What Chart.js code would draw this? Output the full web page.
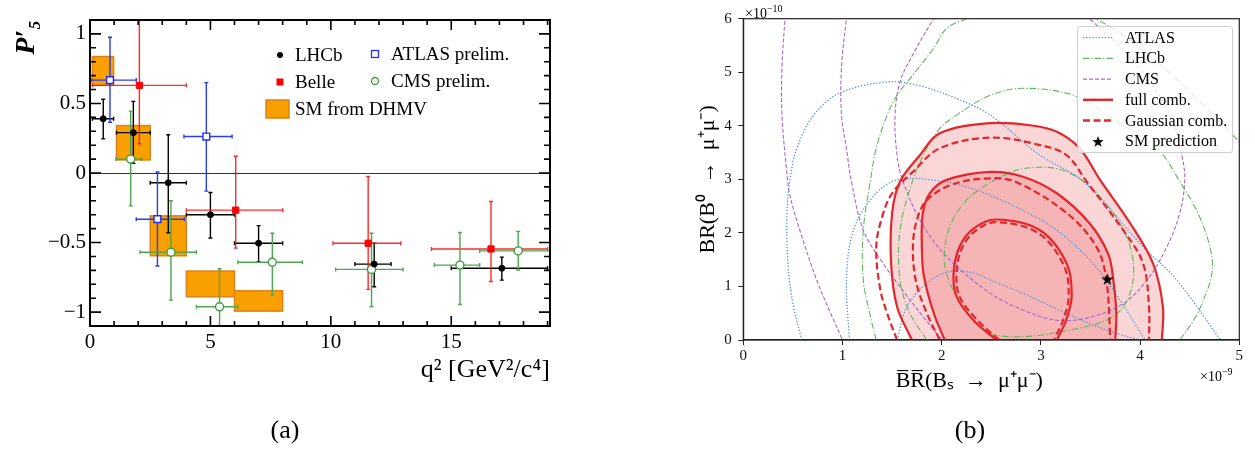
<!DOCTYPE html>
<html>
<head>
<meta charset="utf-8">
<script src="https://cdn.jsdelivr.net/npm/chart.js@4.4.1/dist/chart.umd.min.js"></script>
<style>
  body { margin: 0; background: #fff; }
  #page { position: relative; width: 1255px; height: 452px; overflow: hidden; font-family: "Liberation Serif", serif; color: #000; }
  canvas { position: absolute; top: 0; }
  .lab { position: absolute; white-space: nowrap; }
  svg { position: absolute; left: 0; top: 0; pointer-events: none; }
</style>
</head>
<body>
<div id="page">
  <canvas id="chartA" width="620" height="452" style="left:0"></canvas>
  <canvas id="chartB" width="635" height="452" style="left:620px"></canvas>

  <!-- legend (a) -->
  <svg width="620" height="452">
    <circle cx="280" cy="55" r="3" fill="#000"/>
    <rect x="276.5" y="78.5" width="7" height="7" fill="#ff0000"/>
    <rect x="266" y="100" width="23" height="18" fill="#f9a000" stroke="#d9831a" stroke-width="1.5"/>
    <rect x="371.5" y="50.5" width="7" height="7" fill="#fff" stroke="#1f2fff" stroke-width="1.3"/>
    <circle cx="375" cy="81" r="3.5" fill="#fff" stroke="#3e9b3e" stroke-width="1.3"/>
  </svg>
  <div class="lab" style="left:295px;top:43px;font-size:19px;line-height:24px">LHCb</div>
  <div class="lab" style="left:295px;top:70px;font-size:19px;line-height:24px">Belle</div>
  <div class="lab" style="left:295px;top:97px;font-size:19px;line-height:24px">SM from DHMV</div>
  <div class="lab" style="left:391px;top:42px;font-size:19px;line-height:24px">ATLAS prelim.</div>
  <div class="lab" style="left:391px;top:69px;font-size:19px;line-height:24px">CMS prelim.</div>
  <div class="lab" style="left:257px;top:414px;font-size:26px;line-height:32px;width:56px;text-align:center">(a)</div>

  <!-- legend (b) -->
  <div style="position:absolute;left:1077px;top:26px;width:156px;height:127px;box-sizing:border-box;border:1px solid #cfcfcf;border-radius:3px;background:rgba(255,255,255,0.8)"></div>
  <svg width="1255" height="452">
    <line x1="1083" y1="37.7" x2="1113" y2="37.7" stroke="#4c93d8" stroke-width="1.3" stroke-dasharray="1.3 1.8"/>
    <line x1="1083" y1="58.4" x2="1113" y2="58.4" stroke="#5cb85c" stroke-width="1.2" stroke-dasharray="6.5 2 1.2 2"/>
    <line x1="1083" y1="79.1" x2="1113" y2="79.1" stroke="#a866cc" stroke-width="1.2" stroke-dasharray="4 2"/>
    <line x1="1083" y1="99.8" x2="1113" y2="99.8" stroke="#e4262c" stroke-width="2.4"/>
    <line x1="1083" y1="120.5" x2="1113" y2="120.5" stroke="#e4262c" stroke-width="2.4" stroke-dasharray="7 3.5"/>
    <polygon id="legStar" fill="#000" points=""/>
  </svg>
  <div class="lab" style="left:1125px;top:27.7px;font-size:16px;line-height:20px">ATLAS</div>
  <div class="lab" style="left:1125px;top:48.4px;font-size:16px;line-height:20px">LHCb</div>
  <div class="lab" style="left:1125px;top:69.1px;font-size:16px;line-height:20px">CMS</div>
  <div class="lab" style="left:1125px;top:89.8px;font-size:16px;line-height:20px">full comb.</div>
  <div class="lab" style="left:1125px;top:110.5px;font-size:16px;line-height:20px">Gaussian comb.</div>
  <div class="lab" style="left:1125px;top:131.2px;font-size:16px;line-height:20px">SM prediction</div>
  <div class="lab" style="left:745px;top:0px;font-size:14px;line-height:18px">×10<sup style="font-size:10px">−10</sup></div>
  <div class="lab" style="left:1200px;top:363px;font-size:14px;line-height:18px">×10<sup style="font-size:10px">−9</sup></div>
  <div class="lab" style="left:942px;top:414px;font-size:26px;line-height:32px;width:56px;text-align:center">(b)</div>
</div>

<script>
// ---------- panel (a): P'5 vs q^2 ----------
const LHCB_X   = [0.55, 1.8, 3.25, 5.0, 7.0, 11.8, 17.1];
const LHCB_Y   = [0.39, 0.29, -0.07, -0.30, -0.505, -0.655, -0.685];
const LHCB_YLO = [0.245, 0.07, -0.43, -0.467, -0.638, -0.818, -0.77];
const LHCB_YHI = [0.53, 0.515, 0.275, -0.14, -0.378, -0.505, -0.605];
const LHCB_XLO = [0.1, 1.1, 2.5, 4, 6, 11, 15];
const LHCB_XHI = [0.98, 2.5, 4, 6, 8, 12.5, 19];

const BELLE_X   = [2.05, 6.05, 11.55, 16.65];
const BELLE_Y   = [0.63, -0.267, -0.505, -0.546];
const BELLE_YLO = [0.21, -0.54, -0.837, -0.78];
const BELLE_YHI = [1.3, 0.12, -0.025, -0.205];
const BELLE_XLO = [0.1, 4, 10.09, 14.18];
const BELLE_XHI = [4, 8, 12.9, 19];

const ATLAS_X   = [0.83, 2.8, 4.83];
const ATLAS_Y   = [0.668, -0.332, 0.262];
const ATLAS_YLO = [0.365, -0.669, -0.13];
const ATLAS_YHI = [0.976, 0.007, 0.65];
const ATLAS_XLO = [0.04, 1.92, 3.9];
const ATLAS_XHI = [1.92, 3.92, 5.9];

const CMS_X   = [1.69, 3.36, 5.38, 7.57, 11.69, 15.36, 17.78];
const CMS_Y   = [0.10, -0.57, -0.962, -0.642, -0.693, -0.662, -0.56];
const CMS_YLO = [-0.236, -0.914, -1.3, -0.878, -0.962, -0.945, -0.697];
const CMS_YHI = [0.445, -0.20, -0.688, -0.433, -0.433, -0.428, -0.42];
const CMS_XLO = [1.08, 2.08, 4.42, 6.14, 10.2, 14.3, 16.18];
const CMS_XHI = [2.14, 4.42, 6.14, 8.82, 13.0, 16.18, 19.1];

const SM_XLO = [0.1, 1.1, 2.5, 4, 6];
const SM_XHI = [0.98, 2.5, 4, 6, 8];
const SM_YLO = [0.63, 0.094, -0.595, -0.89, -0.993];
const SM_YHI = [0.837, 0.341, -0.308, -0.705, -0.847];

const Q2_TICKS  = [0, 5, 10, 15];
const P5_TICKS  = [-1, -0.5, 0, 0.5, 1];

// ---------- panel (b): BR contours (x in 1e-9, y in 1e-10) ----------
const FULL_OUTER = [[1.70,0],[1.55,0.62],[1.49,1.43],[1.50,2.37],[1.58,2.96],[1.78,3.45],[1.98,3.86],[2.49,4.05],[2.89,4.01],[3.16,3.89],[3.39,3.58],[3.60,2.98],[3.90,2.18],[4.13,1.43],[4.23,0.62],[4.22,0]];
const FULL_MID   = [[2.03,0],[1.92,0.5],[1.82,1.2],[1.80,1.74],[1.81,2.37],[1.88,2.74],[2.05,2.99],[2.49,3.14],[2.82,3.05],[3.16,2.74],[3.49,2.18],[3.68,1.6],[3.73,1.12],[3.76,0.5],[3.75,0]];
const FULL_INNER = [[2.55,0],[2.32,0.37],[2.15,0.81],[2.12,1.25],[2.18,1.74],[2.32,2.08],[2.55,2.25],[2.99,2.05],[3.26,1.43],[3.31,0.81],[3.25,0.35],[3.16,0]];
const GAUSS_OUTER = [[1.55,0],[1.45,0.5],[1.38,0.95],[1.34,1.74],[1.40,2.3],[1.50,2.74],[1.71,3.14],[1.98,3.58],[2.49,3.78],[2.99,3.64],[3.26,3.45],[3.46,2.96],[3.83,2.05],[4.03,1.43],[4.09,0.62],[4.09,0]];
const GAUSS_MID   = [[1.98,0],[1.85,0.5],[1.74,1.1],[1.71,1.74],[1.75,2.24],[1.85,2.61],[2.1,2.9],[2.49,3.02],[2.75,2.95],[3.26,2.37],[3.56,1.74],[3.66,1.12],[3.70,0]];
const GAUSS_INNER = [[2.58,0],[2.36,0.37],[2.18,0.81],[2.15,1.25],[2.2,1.7],[2.34,2.04],[2.55,2.2],[2.97,2.0],[3.23,1.4],[3.28,0.81],[3.22,0.35],[3.13,0]];

const ATLAS_1 = [[0.59,0],[0.50,0.68],[0.45,1.43],[0.44,2.37],[0.47,2.99],[0.54,3.58],[0.71,4.2],[0.97,4.61],[1.45,4.82],[1.75,4.76],[2.15,4.51],[2.49,4.2],[2.99,3.45],[3.43,2.96],[4.03,1.74],[4.37,1.12],[4.81,0]];
const ATLAS_2 = [[1.07,0],[1.04,1.12],[1.11,2.05],[1.31,2.68],[1.55,2.99],[1.98,2.97],[2.32,2.82],[2.49,2.7],[2.82,2.42],[3.16,2.05],[3.49,1.5],[3.76,0.85],[4.05,0]];
const ATLAS_3 = [[1.55,0],[1.65,0.62],[1.85,1.06],[2.08,1.28],[2.32,1.25],[2.49,1.12],[2.82,0.87],[3.16,0.58],[3.5,0.3],[3.8,0.1],[4.0,0]];

const LHCB_1 = [[1.34,0],[1.29,0.37],[1.21,1.12],[1.21,2.05],[1.28,2.96],[1.34,3.58],[1.45,4.2],[1.55,4.57],[1.71,4.95],[1.92,5.45],[2.05,5.82],[2.25,6.0],[2.9,6.5],[3.55,6.0],[4.0,5.45],[4.5,4.64],[5.0,3.7],[5.2,3.3]];
const LHCB_2 = [[1.85,0],[1.68,0.5],[1.58,1.12],[1.58,2.05],[1.71,2.99],[1.85,3.58],[1.98,3.95],[2.15,4.2],[2.49,4.57],[2.82,4.7],[3.33,4.57],[3.66,4.2],[4.17,3.58],[4.40,2.96],[4.6,2.3],[4.72,1.6],[4.72,1.2],[4.65,0.8],[4.55,0.4],[4.40,0]];
const LHCB_3 = [[2.49,0.1],[2.32,0.37],[2.15,0.81],[2.04,1.3],[2.03,1.7],[2.1,2.2],[2.25,2.61],[2.42,2.86],[2.6,3.05],[2.82,3.2],[3.16,3.2],[3.43,2.96],[3.73,2.37],[3.90,1.74],[3.93,1.12],[3.83,0.62],[3.66,0.37],[3.33,0.2],[2.95,0.08],[2.7,0.06],[2.49,0.1]];

const CMS_1 = [[0.43,6.3],[0.42,6],[0.39,5.1],[0.39,4.2],[0.44,3.1],[0.47,2.7],[0.57,2.05],[0.74,1.12],[0.88,0.5],[1.0,0]];
const CMS_2 = [[1.06,6.3],[1.04,6],[0.99,5.1],[0.99,4.2],[1.04,3.58],[1.09,2.96],[1.21,2.05],[1.41,1.43],[1.65,0.82],[1.85,0.35],[2.0,0]];
const CMS_3 = [[2.1,6.5],[1.92,6],[1.7,5.3],[1.58,4.82],[1.53,4.2],[1.55,3.45],[1.61,2.96],[1.80,2.18],[2.05,1.56],[2.49,0.87],[2.82,0.56],[3.16,0.37],[3.49,0.42],[3.83,0.68],[4.07,1.12],[4.27,1.74],[4.40,2.37],[4.45,2.99],[4.42,3.45],[4.30,4.2],[4.0,5.07],[3.49,6.0],[3.2,6.4]];

const SM_POINT = [[3.67, 1.14]];

const BS_TICKS = [0, 1, 2, 3, 4, 5];
const BD_TICKS = [0, 1, 2, 3, 4, 5, 6];

const SERIF = 'Liberation Serif';

// ---------------- panel (a) ----------------
function expt(label, X, Y, XLO, XHI, YLO, YHI, style) {
  return Object.assign({
    label: label,
    data: X.map((x, i) => ({ x: x, y: Y[i] })),
    err: X.map((x, i) => ({ xlo: XLO[i], xhi: XHI[i], ylo: YLO[i], yhi: YHI[i] }))
  }, style);
}

const boxesAndBars = {
  id: 'boxesAndBars',
  beforeDatasetsDraw(chart) {
    const { ctx, chartArea: a, scales: { x, y } } = chart;
    ctx.save();
    ctx.beginPath();
    ctx.rect(a.left, a.top, a.width, a.height);
    ctx.clip();
    // SM boxes
    SM_XLO.forEach((v, i) => {
      const x0 = x.getPixelForValue(v), x1 = x.getPixelForValue(SM_XHI[i]);
      const y0 = y.getPixelForValue(SM_YHI[i]), y1 = y.getPixelForValue(SM_YLO[i]);
      ctx.fillStyle = '#f9a000';
      ctx.fillRect(x0, y0, x1 - x0, y1 - y0);
      ctx.strokeStyle = '#d9831a';
      ctx.lineWidth = 1.5;
      ctx.strokeRect(x0, y0, x1 - x0, y1 - y0);
    });
    // error bars
    chart.data.datasets.forEach(ds => {
      if (!ds.err) return;
      ctx.strokeStyle = ds.barColor;
      ctx.lineWidth = 1.4;
      ds.err.forEach((e, i) => {
        const p = ds.data[i];
        const px = x.getPixelForValue(p.x), py = y.getPixelForValue(p.y);
        const xl = x.getPixelForValue(e.xlo), xh = x.getPixelForValue(e.xhi);
        const yl = y.getPixelForValue(e.ylo), yh = y.getPixelForValue(e.yhi);
        ctx.beginPath();
        ctx.moveTo(xl, py); ctx.lineTo(xh, py);
        ctx.moveTo(px, yl); ctx.lineTo(px, yh);
        ctx.moveTo(xl, py - 2); ctx.lineTo(xl, py + 2);
        ctx.moveTo(xh, py - 2); ctx.lineTo(xh, py + 2);
        ctx.moveTo(px - 2, yl); ctx.lineTo(px + 2, yl);
        ctx.moveTo(px - 2, yh); ctx.lineTo(px + 2, yh);
        ctx.stroke();
      });
    });
    ctx.restore();
  }
};

// ROOT style frame, ticks pointing inwards on all four sides
const rootFrame = {
  id: 'rootFrame',
  afterDraw(chart) {
    const { ctx, chartArea: a, scales: { x, y } } = chart;
    ctx.save();
    ctx.strokeStyle = '#000';
    ctx.lineWidth = 1.6;
    ctx.beginPath();
    for (let k = 1; k < 20; k++) {
      const px = x.getPixelForValue(k);
      if (px > a.right - 1) break;
      const len = k % 5 === 0 ? 10 : 5;
      ctx.moveTo(px, a.bottom); ctx.lineTo(px, a.bottom - len);
      ctx.moveTo(px, a.top); ctx.lineTo(px, a.top + len);
    }
    for (let k = -10; k <= 10; k++) {
      const py = y.getPixelForValue(k / 10);
      const len = k % 5 === 0 ? 11 : 6;
      ctx.moveTo(a.left, py); ctx.lineTo(a.left + len, py);
      ctx.moveTo(a.right, py); ctx.lineTo(a.right - len, py);
    }
    ctx.stroke();
    ctx.lineWidth = 2;
    ctx.strokeRect(a.left, a.top, a.width, a.height);
    ctx.restore();
  }
};

new Chart(document.getElementById('chartA'), {
  type: 'scatter',
  data: {
    datasets: [
      expt('LHCb', LHCB_X, LHCB_Y, LHCB_XLO, LHCB_XHI, LHCB_YLO, LHCB_YHI,
        { barColor: '#000', pointStyle: 'circle', pointRadius: 3, backgroundColor: '#000', borderColor: '#000', borderWidth: 1 }),
      expt('Belle', BELLE_X, BELLE_Y, BELLE_XLO, BELLE_XHI, BELLE_YLO, BELLE_YHI,
        { barColor: 'rgba(255,20,20,0.9)', pointStyle: 'rect', pointRadius: 4.4, backgroundColor: '#ff0000', borderColor: '#ff0000', borderWidth: 1 }),
      expt('ATLAS prelim.', ATLAS_X, ATLAS_Y, ATLAS_XLO, ATLAS_XHI, ATLAS_YLO, ATLAS_YHI,
        { barColor: '#2a3cf0', pointStyle: 'rect', pointRadius: 4.8, backgroundColor: '#fff', borderColor: '#1f2fff', borderWidth: 1.4 }),
      expt('CMS prelim.', CMS_X, CMS_Y, CMS_XLO, CMS_XHI, CMS_YLO, CMS_YHI,
        { barColor: '#4ea64e', pointStyle: 'circle', pointRadius: 4, backgroundColor: '#fff', borderColor: '#3e9b3e', borderWidth: 1.4 })
    ]
  },
  options: {
    responsive: false,
    animation: false,
    events: [],
    layout: { padding: { left: 0, right: 70, top: 20, bottom: 0 } },
    plugins: { legend: { display: false }, tooltip: { enabled: false } },
    scales: {
      x: {
        type: 'linear', min: 0, max: 19.1,
        afterBuildTicks: s => { s.ticks = Q2_TICKS.map(v => ({ value: v })); },
        ticks: { padding: 4, color: '#000', font: { family: SERIF, size: 21 } },
        grid: { display: false, drawTicks: false },
        border: { display: false },
        title: { display: true, text: 'q² [GeV²/c⁴]', align: 'end', color: '#000',
                 font: { family: SERIF, size: 26 }, padding: { top: 0, bottom: 66.4 } },
        afterFit: s => { s.height = 126; }
      },
      y: {
        type: 'linear', min: -1.1, max: 1.1,
        afterBuildTicks: s => { s.ticks = P5_TICKS.map(v => ({ value: v })); },
        ticks: { padding: 4, color: '#000', font: { family: SERIF, size: 21 },
                 callback: v => String(v).replace('-', '\u2212') },
        grid: { drawTicks: false, lineWidth: 1,
                color: c => (c.tick && c.tick.value === 0) ? '#333' : 'rgba(0,0,0,0)' },
        border: { display: false },
        title: { display: true, text: 'P\u2032\u2085', align: 'end', color: '#000',
                 font: { family: SERIF, size: 28, style: 'italic', weight: 'bold' }, padding: { top: 10, bottom: 0 } },
        afterFit: s => { s.width = 90; }
      }
    }
  },
  plugins: [boxesAndBars, rootFrame]
});

// ---------------- panel (b) ----------------
const pts = arr => arr.map(p => ({ x: p[0], y: p[1] }));

function starCanvas(size) {
  const c = document.createElement('canvas');
  c.width = c.height = size;
  const g = c.getContext('2d');
  g.fillStyle = '#000';
  g.beginPath();
  for (let i = 0; i < 10; i++) {
    const r = i % 2 ? size * 0.2 : size * 0.5;
    const t = -Math.PI / 2 + i * Math.PI / 5;
    g.lineTo(size / 2 + r * Math.cos(t), size * 0.55 + r * Math.sin(t));
  }
  g.closePath();
  g.fill();
  return c;
}

// legend star in the HTML legend
(function () {
  const cx = 1098, cy = 142, R = 6, r = 2.4, p = [];
  for (let i = 0; i < 10; i++) {
    const rr = i % 2 ? r : R, t = -Math.PI / 2 + i * Math.PI / 5;
    p.push((cx + rr * Math.cos(t)).toFixed(2) + ',' + (cy + rr * Math.sin(t)).toFixed(2));
  }
  document.getElementById('legStar').setAttribute('points', p.join(' '));
})();

function contour(label, arr, color, width, dash, region) {
  return {
    label: label, data: pts(arr), showLine: true, pointRadius: 0,
    borderColor: color, borderWidth: width, borderDash: dash, tension: 0.35,
    fill: false, clip: 0, regionColor: region || null
  };
}

const RED = '#e4262c';
const REGION = 'rgba(228,38,43,0.19)';
const BLUE = '#4c93d8', GREEN = '#5cb85c', PURPLE = '#a866cc';

// filled confidence regions, drawn under the contour lines
const contourFill = {
  id: 'contourFill',
  beforeDatasetsDraw(chart) {
    const { ctx, chartArea: a } = chart;
    ctx.save();
    ctx.beginPath();
    ctx.rect(a.left, a.top, a.width, a.height);
    ctx.clip();
    chart.data.datasets.forEach((ds, i) => {
      if (!ds.regionColor) return;
      const meta = chart.getDatasetMeta(i);
      const line = meta.dataset;
      ctx.beginPath();
      if (line && typeof line.path === 'function') {
        line.updateControlPoints(a, 'x');
        line.path(ctx);
      } else {
        meta.data.forEach((pt, j) => j ? ctx.lineTo(pt.x, pt.y) : ctx.moveTo(pt.x, pt.y));
      }
      ctx.closePath();
      ctx.fillStyle = ds.regionColor;
      ctx.fill();
    });
    ctx.restore();
  }
};

const boxFrame = {
  id: 'boxFrame',
  afterDraw(chart) {
    const { ctx, chartArea: a } = chart;
    ctx.save();
    ctx.strokeStyle = '#222';
    ctx.lineWidth = 1.2;
    ctx.strokeRect(a.left, a.top, a.width, a.height);
    ctx.restore();
  }
};

new Chart(document.getElementById('chartB'), {
  type: 'scatter',
  data: {
    datasets: [
      { label: 'SM prediction', data: pts(SM_POINT), pointStyle: starCanvas(13), pointRadius: 6 },
      contour('full comb.', FULL_OUTER, RED, 2.2, [], REGION),
      contour('full comb.', FULL_MID, RED, 2.2, [], REGION),
      contour('full comb.', FULL_INNER, RED, 2.2, []),
      contour('Gaussian comb.', GAUSS_OUTER, RED, 2.2, [7, 3.5]),
      contour('Gaussian comb.', GAUSS_MID, RED, 2.2, [7, 3.5]),
      contour('Gaussian comb.', GAUSS_INNER, RED, 2.2, [7, 3.5]),
      contour('ATLAS', ATLAS_1, BLUE, 1.3, [1.3, 1.8]),
      contour('ATLAS', ATLAS_2, BLUE, 1.3, [1.3, 1.8]),
      contour('ATLAS', ATLAS_3, BLUE, 1.3, [1.3, 1.8]),
      contour('LHCb', LHCB_1, GREEN, 1.1, [6.5, 2, 1.2, 2]),
      contour('LHCb', LHCB_2, GREEN, 1.1, [6.5, 2, 1.2, 2]),
      contour('LHCb', LHCB_3, GREEN, 1.1, [6.5, 2, 1.2, 2]),
      contour('CMS', CMS_1, PURPLE, 1.1, [4, 2]),
      contour('CMS', CMS_2, PURPLE, 1.1, [4, 2]),
      contour('CMS', CMS_3, PURPLE, 1.1, [4, 2])
    ]
  },
  options: {
    responsive: false,
    animation: false,
    events: [],
    layout: { padding: { left: 0, right: 15.7, top: 18.7, bottom: 0 } },
    elements: { line: { capBezierPoints: false } },
    plugins: { legend: { display: false }, tooltip: { enabled: false } },
    scales: {
      x: {
        type: 'linear', min: 0, max: 5,
        afterBuildTicks: s => { s.ticks = BS_TICKS.map(v => ({ value: v })); },
        ticks: { padding: 2.5, color: '#111', font: { family: SERIF, size: 15 } },
        grid: { drawOnChartArea: false, tickLength: 5, tickColor: '#222', tickWidth: 1 },
        border: { color: '#222', width: 1.2 },
        title: { display: true, text: 'B\u0305R\u0305(B\u209B\u2002\u2192\u2002\u03BC\u207A\u03BC\u207B)\u2003\u2003', color: '#000',
                 font: { family: SERIF, size: 22 }, padding: { top: 0, bottom: 57.8 } },
        afterFit: s => { s.height = 112; }
      },
      y: {
        type: 'linear', min: 0, max: 6,
        afterBuildTicks: s => { s.ticks = BD_TICKS.map(v => ({ value: v })); },
        ticks: { padding: 6.6, color: '#111', font: { family: SERIF, size: 15 } },
        grid: { drawOnChartArea: false, tickLength: 5, tickColor: '#222', tickWidth: 1 },
        border: { color: '#222', width: 1.2 },
        title: { display: true, text: 'BR(B\u2070\u2002\u2192\u2002\u03BC\u207A\u03BC\u207B)', color: '#000',
                 font: { family: SERIF, size: 22 }, padding: { top: 74.8, bottom: 0 } },
        afterFit: s => { s.width = 123.3; }
      }
    }
  },
  plugins: [contourFill, boxFrame]
});
</script>
</body>
</html>
